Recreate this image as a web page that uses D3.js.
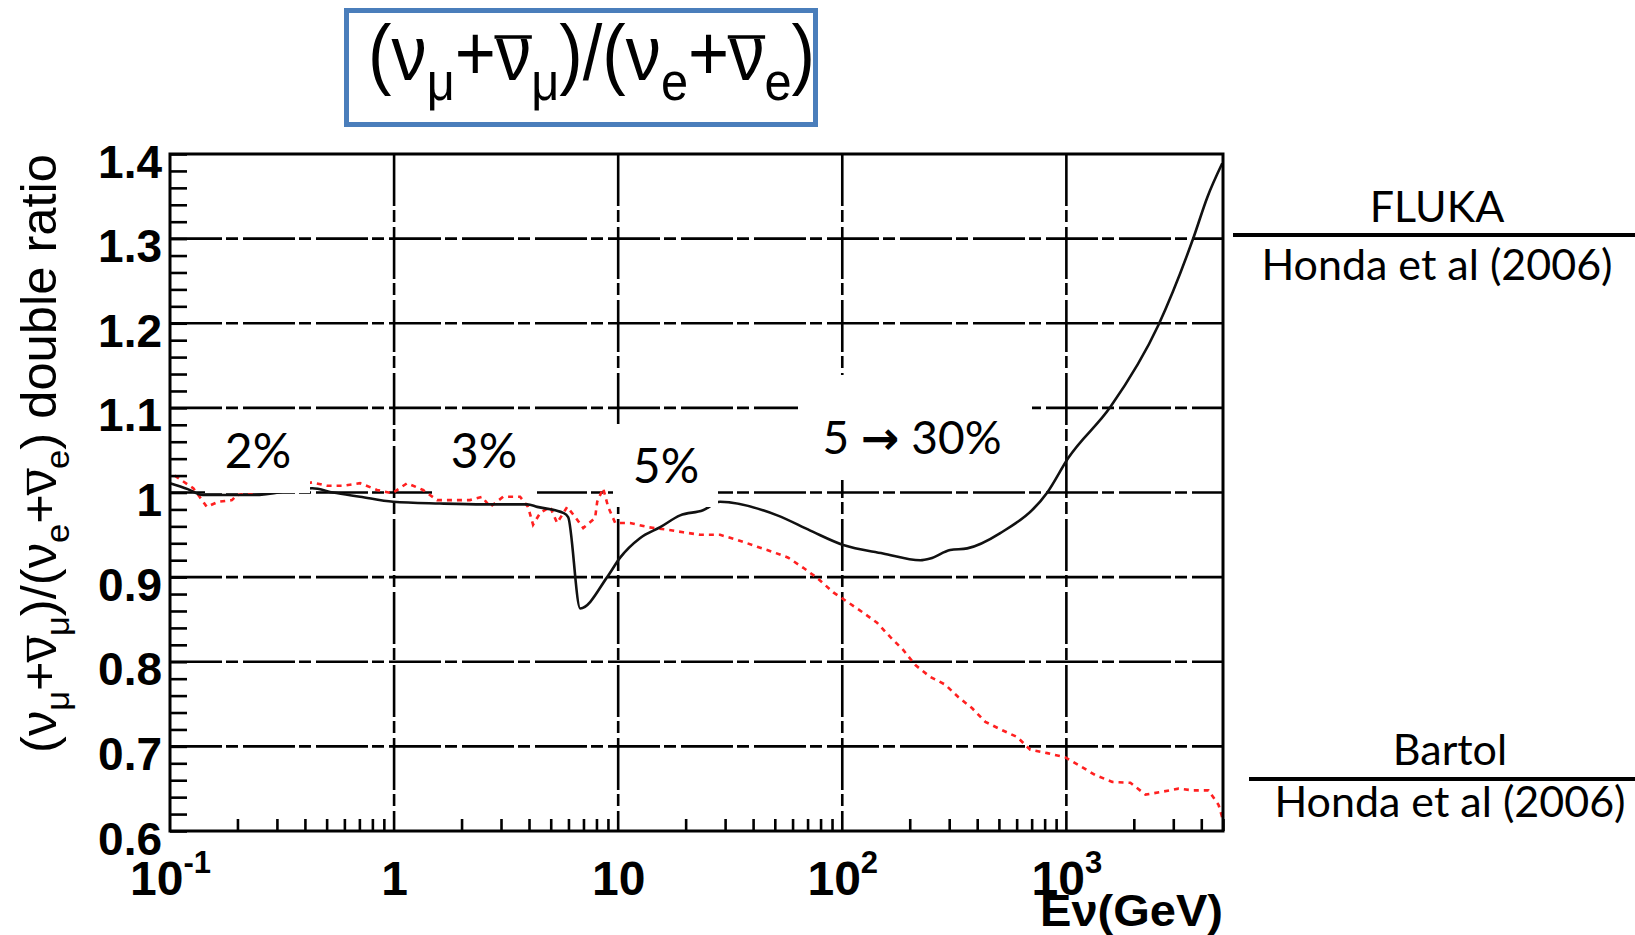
<!DOCTYPE html>
<html>
<head>
<meta charset="utf-8">
<script src="https://cdn.jsdelivr.net/npm/d3@7"></script>
<style>
  html, body { margin: 0; padding: 0; background: #fff; }
  svg { display: block; }
</style>
</head>
<body>
<svg id="chart" width="1635" height="935"></svg>
<script>
// (nu_mu + nubar_mu)/(nu_e + nubar_e) double ratio versus neutrino energy (GeV)

// FLUKA / Honda et al (2006)
const flukaEnergy = [0.1, 0.12, 0.14, 0.18, 0.235, 0.431, 0.534, 0.705, 0.99, 1.6, 2.5, 3.93, 4.35, 5.68, 5.98,
  6.77, 8.93, 10.2, 12.5, 15.4, 18.9, 23.9, 28.5, 51.3, 72, 101, 152, 223, 247, 303, 361, 507, 822, 1021, 1571,
  2576, 3690, 4258, 4963];
const flukaRatio = [1.011, 1.004, 0.997, 0.997, 0.997, 1.005, 1.0, 0.995, 0.989, 0.987, 0.986, 0.986, 0.983, 0.976, 0.971,
  0.863, 0.900, 0.923, 0.946, 0.959, 0.973, 0.979, 0.989, 0.973, 0.955, 0.938, 0.928, 0.920, 0.922, 0.932, 0.934, 0.952, 1.0, 1.041, 1.101,
  1.198, 1.301, 1.349, 1.389];

// Bartol / Honda et al (2006)
const bartolEnergy = [0.105, 0.127, 0.139, 0.146, 0.164, 0.189, 0.199, 0.431, 0.502, 0.592, 0.705, 0.839, 0.979,
  1.143, 1.346, 1.555, 1.778, 2.18, 2.47, 2.68, 3.07, 3.65, 3.96, 4.17, 4.49, 4.97, 5.34, 5.92, 6.43, 6.98,
  7.89, 8.06, 8.57, 9.02, 9.70, 11.3, 13.6, 16.6, 19.5, 23.2, 28.5, 34.0, 41.7, 48.7, 57.4, 67.0, 77.3, 91.2,
  105, 124, 143, 164, 187, 212, 247, 288, 330, 380, 435, 518, 604, 690, 822, 990, 1132, 1347, 1603, 1931,
  2254, 2630, 3164, 3690, 4306, 4775, 5000];
const bartolRatio = [1.02, 1.005, 0.991, 0.983, 0.989, 0.991, 0.997, 1.012, 1.008, 1.008, 1.011, 1.003, 0.999,
  1.011, 1.003, 0.991, 0.991, 0.991, 0.995, 0.983, 0.995, 0.995, 0.983, 0.962, 0.976, 0.983, 0.964, 0.983, 0.971, 0.958,
  0.970, 0.989, 1.005, 0.983, 0.964, 0.964, 0.959, 0.956, 0.953, 0.950, 0.950, 0.944, 0.936, 0.930, 0.923, 0.911, 0.899, 0.882,
  0.871, 0.858, 0.846, 0.829, 0.814, 0.796, 0.782, 0.773, 0.758, 0.745, 0.729, 0.719, 0.711, 0.696, 0.692, 0.687, 0.678, 0.666, 0.658, 0.657,
  0.643, 0.646, 0.650, 0.648, 0.648, 0.631, 0.613];

const yTickValues = [0.6, 0.7, 0.8, 0.9, 1.0, 1.1, 1.2, 1.3, 1.4];
const yTickLabels = ["0.6", "0.7", "0.8", "0.9", "1", "1.1", "1.2", "1.3", "1.4"];
const xDecades = [0.1, 1, 10, 100, 1000];
const xTickBase = ["10", "1", "10", "10", "10"];
const xTickExp = ["-1", "", "", "2", "3"];
// percent notes: leading text, optional arrow, trailing text
const noteLabels = [["2%"], ["3%"], ["5%"], ["5 ", "\u2192", " 30%"]];
const legendTop = ["FLUKA", "Honda et al (2006)"];
const legendBottom = ["Bartol", "Honda et al (2006)"];

const svg = d3.select("#chart");
const W = 1635, H = 935;
const plot = { left: 170, right: 1223, top: 154, bottom: 831 };

const x = d3.scaleLog().domain([0.1, 5000]).range([plot.left, plot.right]);
const y = d3.scaleLinear().domain([0.6, 1.4]).range([plot.bottom, plot.top]);

const FONT = "'Liberation Sans', Arial, Helvetica, sans-serif";
const NOTE_FONT = "Lato, 'Open Sans', 'DejaVu Sans', sans-serif";

// ---- grid ----
const grid = svg.append("g").attr("stroke", "#000").attr("stroke-width", 2.6)
  .attr("stroke-dasharray", "52,4,12,5").attr("fill", "none");
grid.selectAll("line.h").data(yTickValues.filter(v => v > 0.6 && v < 1.4)).join("line")
  .attr("class", "h")
  .attr("x1", plot.left).attr("x2", plot.right)
  .attr("y1", d => y(d)).attr("y2", d => y(d));
grid.selectAll("line.v").data(xDecades.filter(d => d > 0.1)).join("line")
  .attr("class", "v")
  .attr("x1", d => x(d)).attr("x2", d => x(d))
  .attr("y1", plot.top).attr("y2", plot.bottom);

// ---- curves ----
const fluka = flukaEnergy.map((e, i) => [e, flukaRatio[i]]);
const bartol = bartolEnergy.map((e, i) => [e, bartolRatio[i]]);

svg.append("path").datum(bartol)
  .attr("fill", "none").attr("stroke", "#ff2020").attr("stroke-width", 2.6)
  .attr("stroke-dasharray", "5,5")
  .attr("d", d3.line().x(d => x(d[0])).y(d => y(d[1])));

svg.append("path").datum(fluka)
  .attr("fill", "none").attr("stroke", "#111").attr("stroke-width", 2.6)
  .attr("d", d3.line().curve(d3.curveMonotoneX).x(d => x(d[0])).y(d => y(d[1])));

// ---- annotation boxes (white background behind the percent notes) ----
const noteLayout = [
  { box: [205, 420, 105, 73], cx: 258, by: 468, size: 48 },
  { box: [432, 420, 105, 74], cx: 484, by: 468, size: 48 },
  { box: [613, 424, 105, 83], cx: 666, by: 483, size: 48 },
  { box: [798, 375, 234, 105], cx: 912, by: 454, size: 46 }
];
noteLabels.forEach((parts, i) => {
  const L = noteLayout[i];
  svg.append("rect").attr("x", L.box[0]).attr("y", L.box[1])
    .attr("width", L.box[2]).attr("height", L.box[3]).attr("fill", "#fff");
  const t = svg.append("text").attr("x", L.cx).attr("y", L.by)
    .attr("text-anchor", "middle").attr("font-family", NOTE_FONT)
    .attr("font-size", L.size).attr("fill", "#000").attr("xml:space", "preserve");
  parts.forEach((p, k) => {
    const s = t.append("tspan").text(p);
    if (k === 1) s.attr("font-family", "'DejaVu Sans', sans-serif").attr("font-weight", "bold");
  });
});

// ---- axes ----
const minorY = d3.range(0, 41).map(i => +(0.6 + i * 0.02).toFixed(2));
svg.append("g").attr("transform", `translate(${plot.left},0)`)
  .call(d3.axisRight(y).tickValues(minorY).tickSize(17).tickFormat(""))
  .call(g => g.select(".domain").remove())
  .call(g => g.selectAll("line").attr("stroke", "#000").attr("stroke-width", 2.6));

const minorX = [];
[0.1, 1, 10, 100, 1000].forEach(d => { for (let k = 2; k <= 9; k++) if (d * k <= 5000) minorX.push(d * k); });
svg.append("g").attr("transform", `translate(0,${plot.bottom})`)
  .call(d3.axisTop(x).tickValues(minorX).tickSize(12).tickFormat(""))
  .call(g => g.select(".domain").remove())
  .call(g => g.selectAll("line").attr("stroke", "#000").attr("stroke-width", 2.6));

// y tick labels
svg.append("g").attr("transform", `translate(${plot.left},0)`)
  .call(d3.axisLeft(y).tickValues(yTickValues).tickSize(0).tickPadding(8)
    .tickFormat((d, i) => yTickLabels[i]))
  .call(g => g.select(".domain").remove())
  .call(g => g.selectAll("text").attr("dy", "0.5em")
    .attr("font-family", FONT).attr("font-weight", "bold").attr("font-size", 46).attr("fill", "#000"));

// x tick labels with superscript exponents
svg.append("g").attr("transform", `translate(0,${plot.bottom})`)
  .call(d3.axisBottom(x).tickValues(xDecades).tickSize(0).tickFormat(""))
  .call(g => g.select(".domain").remove())
  .call(g => g.selectAll(".tick").each(function (d, i) {
    const t = d3.select(this).select("text")
      .attr("y", 64).attr("dy", 0).attr("text-anchor", "middle")
      .attr("font-family", FONT).attr("font-weight", "bold").attr("fill", "#000");
    t.append("tspan").attr("font-size", 48).text(xTickBase[i]);
    if (xTickExp[i]) t.append("tspan").attr("font-size", 31).attr("dy", -22).text(xTickExp[i]);
  }));

svg.append("text").attr("x", plot.right).attr("y", 926).attr("text-anchor", "end")
  .attr("font-family", FONT).attr("font-weight", "bold").attr("font-size", 44)
  .attr("textLength", 183).attr("lengthAdjust", "spacingAndGlyphs")
  .text("E\u03BD(GeV)");

// frame
svg.append("rect").attr("x", plot.left).attr("y", plot.top)
  .attr("width", plot.right - plot.left).attr("height", plot.bottom - plot.top)
  .attr("fill", "none").attr("stroke", "#000").attr("stroke-width", 3);

// ---- formula helper: sequential pieces with subscripts and overbars ----
function formula(g, pieces, size, subSize, subShift, barRise) {
  let pos = 0;
  pieces.forEach(p => {
    const el = g.append("text").attr("x", pos).attr("y", p.sub ? subShift : 0)
      .attr("xml:space", "preserve")
      .attr("font-size", p.sub ? subSize : size).text(p.t);
    const w = el.node().getComputedTextLength();
    if (p.bar) {
      g.append("line").attr("x1", pos - size * 0.02).attr("x2", pos + w + size * 0.01)
        .attr("y1", -barRise).attr("y2", -barRise)
        .attr("stroke", "#000").attr("stroke-width", size * 0.045);
    }
    pos += w;
  });
  return pos;
}
const ratioPieces = [
  { t: "(" }, { t: "\u03BD" }, { t: "\u03BC", sub: true }, { t: "+" }, { t: "\u03BD", bar: true },
  { t: "\u03BC", sub: true }, { t: ")/(" }, { t: "\u03BD" }, { t: "e", sub: true }, { t: "+" },
  { t: "\u03BD", bar: true }, { t: "e", sub: true }, { t: ")" }
];

// ---- title box ----
svg.append("rect").attr("x", 346.5).attr("y", 10.5).attr("width", 469).attr("height", 114)
  .attr("fill", "#fff").attr("stroke", "#4a7ebb").attr("stroke-width", 5);
const title = svg.append("g").attr("font-family", FONT).attr("fill", "#000");
const titleW = formula(title, ratioPieces, 78, 54, 20, 43);
title.attr("transform", `translate(368,80) scale(${447 / titleW},1)`);

// ---- y axis title ----
const ylab = svg.append("g").attr("font-family", FONT).attr("fill", "#000");
const ylabW = formula(ylab, ratioPieces.concat([{ t: "\u00A0double ratio" }]), 50, 34, 13, 28);
ylab.attr("transform", `translate(56,753) rotate(-90) scale(${599 / ylabW},1)`);

// ---- model legends ----
function legend(lines, cx, y1, lineY, lineX, y2) {
  svg.append("text").attr("x", cx).attr("y", y1).attr("text-anchor", "middle")
    .attr("font-family", NOTE_FONT).attr("font-size", 43).text(lines[0]);
  svg.append("line").attr("x1", lineX).attr("x2", W).attr("y1", lineY).attr("y2", lineY)
    .attr("stroke", "#000").attr("stroke-width", 4);
  svg.append("text").attr("x", cx).attr("y", y2).attr("text-anchor", "middle")
    .attr("font-family", NOTE_FONT).attr("font-size", 43).text(lines[1]);
}
legend(legendTop, 1437, 222, 235, 1233, 280);
legend(legendBottom, 1450, 765, 779, 1249, 817);
</script>
</body>
</html>
